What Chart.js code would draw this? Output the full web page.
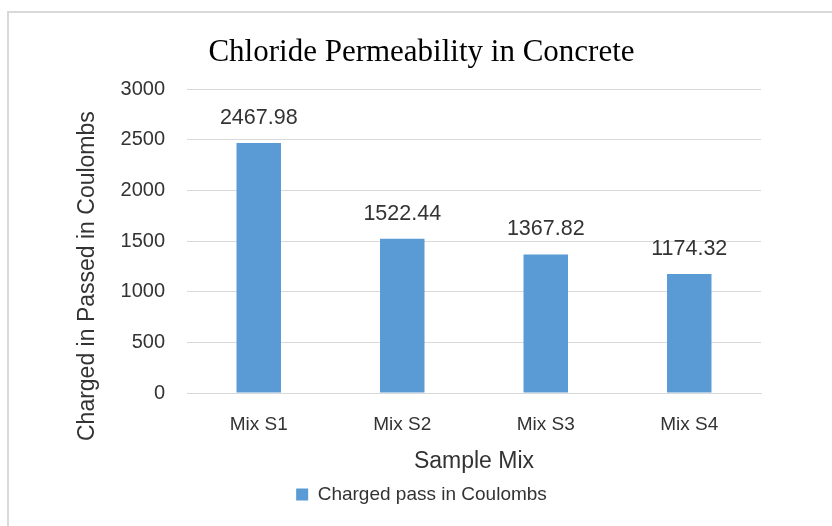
<!DOCTYPE html>
<html>
<head>
<meta charset="utf-8">
<script src="https://cdn.jsdelivr.net/npm/chart.js@4/dist/chart.umd.min.js"></script>
<style>
  html, body { margin: 0; padding: 0; background: #fff; overflow: hidden; }
  #cadre { position: absolute; left: 7px; top: 11px; width: 900px; height: 600px; border: 2px solid #d9d9d9; }
  #zone { position: absolute; left: 0; top: 0; width: 832px; height: 526px; }
</style>
</head>
<body>
<div id="cadre"></div>
<div id="zone"><canvas id="graphe" width="832" height="526"></canvas></div>
<script>
// données
const categories = ['Mix S1', 'Mix S2', 'Mix S3', 'Mix S4'];
const valeurs = [2467.98, 1522.44, 1367.82, 1174.32];
const etiquettes = ['2467.98', '1522.44', '1367.82', '1174.32'];
const nomSerie = 'Charged pass in Coulombs';

const sans = "'Liberation Sans', Arial, sans-serif";
const serif = "'Liberation Serif', 'Times New Roman', serif";

// valeurs au-dessus des barres
const pluginEtiquettes = {
  id: 'etiquettes',
  afterDatasetsDraw(chart) {
    const ctx = chart.ctx;
    const meta = chart.getDatasetMeta(0);
    ctx.save();
    ctx.font = '21.5px ' + sans;
    ctx.fillStyle = '#333';
    ctx.textAlign = 'center';
    ctx.textBaseline = 'middle';
    meta.data.forEach((bar, i) => {
      ctx.fillText(etiquettes[i], bar.x, bar.y - 25);
    });
    ctx.restore();
  }
};

// titre de l'axe Y (décalé vers le bas comme dans l'original)
const pluginTitreY = {
  id: 'titreY',
  afterDraw(chart) {
    const ctx = chart.ctx;
    const a = chart.chartArea;
    ctx.save();
    ctx.translate(88, (a.top + a.bottom) / 2 + 35);
    ctx.rotate(-Math.PI / 2);
    ctx.font = '23px ' + sans;
    ctx.fillStyle = '#333';
    ctx.textAlign = 'center';
    ctx.textBaseline = 'middle';
    ctx.fillText('Charged in Passed in Coulombs', 0, 0);
    ctx.restore();
  }
};

new Chart(document.getElementById('graphe').getContext('2d'), {
  type: 'bar',
  data: {
    labels: categories,
    datasets: [{
      label: nomSerie,
      data: valeurs,
      backgroundColor: '#5b9bd5',
      borderWidth: 0,
      categoryPercentage: 1,
      barPercentage: 0.31
    }]
  },
  options: {
    responsive: false,
    animation: false,
    layout: { padding: { left: 82, right: 71, top: 0, bottom: 12 } },
    plugins: {
      title: {
        display: true,
        text: 'Chloride Permeability in Concrete',
        font: { family: serif, size: 31, weight: 'normal' },
        color: '#000',
        padding: { top: 34, bottom: 18 }
      },
      legend: {
        position: 'bottom',
        labels: {
          font: { family: sans, size: 19 },
          color: '#333',
          boxWidth: 12,
          boxHeight: 12,
          padding: 10
        }
      },
      tooltip: { enabled: false }
    },
    scales: {
      x: {
        afterFit: (s) => { s.height = 82; },
        grid: { display: false, drawTicks: false },
        border: { display: true, color: '#d9d9d9', width: 1 },
        ticks: { font: { family: sans, size: 19 }, color: '#333', padding: 20 },
        title: {
          display: true,
          text: 'Sample Mix',
          font: { family: sans, size: 23 },
          color: '#333',
          padding: { top: 0, bottom: 0 }
        }
      },
      y: {
        min: 0,
        max: 3000,
        afterFit: (s) => { s.width = 105; },
        ticks: {
          stepSize: 500,
          font: { family: sans, size: 20 },
          color: '#333',
          padding: 22,
          callback: (v) => String(v)
        },
        grid: { color: '#d9d9d9', lineWidth: 1, drawTicks: false },
        border: { display: false }
      }
    }
  },
  plugins: [pluginEtiquettes, pluginTitreY]
});
</script>
</body>
</html>
